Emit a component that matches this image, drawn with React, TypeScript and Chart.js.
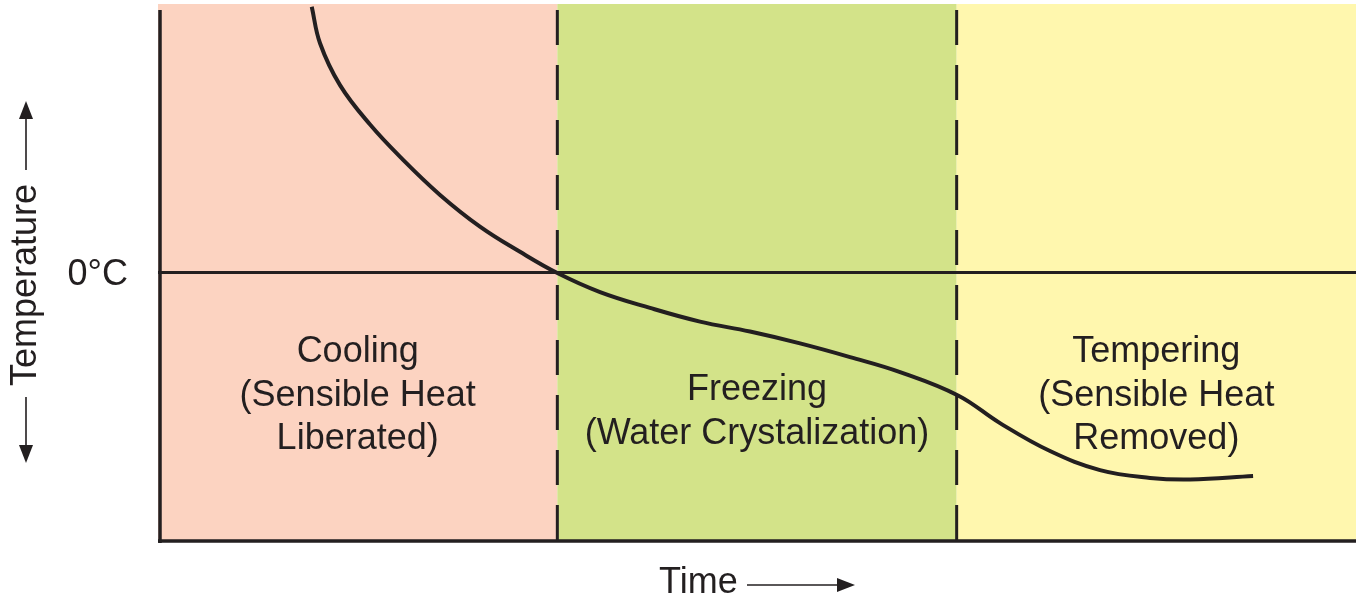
import React, { useEffect, useRef } from "react";
import { Chart, registerables } from "chart.js";

Chart.register(...registerables);

// ---- data ----
const curveTime = [
  1.54, 1.623, 1.823, 2.124, 2.441, 2.825, 3.225, 3.626, 4.0,
  4.428, 4.928, 5.429, 5.93, 6.431, 6.932, 7.433, 8.014, 8.434, 8.935, 9.436, 9.937, 10.338, 10.969,
];
const curveTemp = [
  9.9, 8.54, 6.98, 5.51, 4.25, 2.89, 1.71, 0.77, -0.02,
  -0.73, -1.32, -1.83, -2.2, -2.64, -3.15, -3.71, -4.58, -5.61, -6.65, -7.36, -7.65, -7.71, -7.58,
];

const regionStart = [0, 4, 8];
const regionEnd = [4, 8, 12];
const regionLabels = [
  ["Cooling", "(Sensible Heat", "Liberated)"],
  ["Freezing", "(Water Crystalization)"],
  ["Tempering", "(Sensible Heat", "Removed)"],
];
const boundaries = [4, 8];
const zeroLabel = "0°C";
const xTitle = "Time";
const yTitle = "Temperature";
const timeMin = 0;
const timeMax = 12;
const tempMin = -10;
const tempMax = 10;
const dashTop = 9.78;

// ---- styles ----
const regionColors = ["#FCD3C1", "#D3E389", "#FFF7AE"];
const INK = "#231F20";
const FONT = '36px "Liberation Sans", Arial, Helvetica, sans-serif';

export default function App() {
  const ref = useRef<HTMLCanvasElement | null>(null);

  useEffect(() => {
    document.body.style.margin = "0";
    const canvas = ref.current!;
    const decor = {
      id: "decor",
      beforeDatasetsDraw(chart: any) {
        const { ctx, chartArea, scales } = chart;
        const xs = scales.x;
        ctx.save();
        regionStart.forEach((s, i) => {
          const x0 = xs.getPixelForValue(s);
          const x1 = xs.getPixelForValue(regionEnd[i]);
          ctx.fillStyle = regionColors[i];
          ctx.fillRect(x0, chartArea.top, x1 - x0, chartArea.bottom - chartArea.top);
        });
        ctx.restore();
      },
      afterDatasetsDraw(chart: any) {
        const { ctx, chartArea, scales } = chart;
        const xs = scales.x;
        const ys = scales.y;
        ctx.save();
        // axes frame
        ctx.strokeStyle = INK;
        ctx.lineWidth = 3.5;
        ctx.beginPath();
        ctx.moveTo(chartArea.left + 2, chartArea.top + 6);
        ctx.lineTo(chartArea.left + 2, chartArea.bottom + 2);
        ctx.moveTo(chartArea.left, chartArea.bottom);
        ctx.lineTo(chartArea.right, chartArea.bottom);
        ctx.stroke();

        // region labels
        ctx.fillStyle = INK;
        ctx.font = FONT;
        ctx.textAlign = "center";
        ctx.textBaseline = "alphabetic";
        regionLabels.forEach((lines, i) => {
          const cx = (xs.getPixelForValue(regionStart[i]) + xs.getPixelForValue(regionEnd[i])) / 2;
          const firstBase = lines.length === 3 ? chartArea.top + 358 : chartArea.top + 396;
          lines.forEach((t, j) => {
            ctx.fillText(t, cx, firstBase + j * 43.5);
          });
        });

        // 0°C label
        ctx.textAlign = "right";
        ctx.fillText(zeroLabel, 128, ys.getPixelForValue(0) + 12.5);

        // x title + arrow
        ctx.textAlign = "left";
        ctx.fillText(xTitle, 659, 593);
        ctx.lineWidth = 1.6;
        ctx.beginPath();
        ctx.moveTo(747, 585);
        ctx.lineTo(840, 585);
        ctx.stroke();
        ctx.beginPath();
        ctx.moveTo(855, 585);
        ctx.lineTo(837, 578);
        ctx.lineTo(837, 592);
        ctx.closePath();
        ctx.fill();

        // y title + arrows
        ctx.save();
        ctx.translate(36, 285);
        ctx.rotate(-Math.PI / 2);
        ctx.textAlign = "center";
        ctx.fillText(yTitle, 0, 0);
        ctx.restore();
        ctx.beginPath();
        ctx.moveTo(26, 170);
        ctx.lineTo(26, 117);
        ctx.moveTo(26, 397);
        ctx.lineTo(26, 447);
        ctx.stroke();
        ctx.beginPath();
        ctx.moveTo(26, 101);
        ctx.lineTo(19, 119);
        ctx.lineTo(33, 119);
        ctx.closePath();
        ctx.fill();
        ctx.beginPath();
        ctx.moveTo(26, 463);
        ctx.lineTo(19, 445);
        ctx.lineTo(33, 445);
        ctx.closePath();
        ctx.fill();
        ctx.restore();
      },
    };

    const datasets: any[] = [
      {
        data: [
          { x: timeMin, y: 0 },
          { x: timeMax, y: 0 },
        ],
        borderColor: INK,
        borderWidth: 3.2,
        pointRadius: 0,
        order: 3,
      },
      ...boundaries.map((b) => ({
        data: [
          { x: b, y: dashTop },
          { x: b, y: tempMin },
        ],
        borderColor: INK,
        borderWidth: 3,
        borderDash: [35, 20],
        pointRadius: 0,
        order: 2,
      })),
      {
        data: curveTime.map((t, i) => ({ x: t, y: curveTemp[i] })),
        borderColor: INK,
        borderWidth: 4,
        pointRadius: 0,
        tension: 0.4,
        order: 1,
      },
    ];

    const chart = new Chart(canvas, {
      type: "line",
      data: { datasets },
      options: {
        animation: false,
        responsive: false,
        maintainAspectRatio: false,
        layout: { padding: { left: 158, top: 4, right: 0, bottom: 62 } },
        plugins: { legend: { display: false }, tooltip: { enabled: false } },
        scales: {
          x: { type: "linear", min: timeMin, max: timeMax, display: false },
          y: { type: "linear", min: tempMin, max: tempMax, display: false },
        },
        elements: { line: { borderCapStyle: "butt", borderJoinStyle: "round" } },
      },
      plugins: [decor],
    } as any);
    return () => chart.destroy();
  }, []);

  return (
    <div style={{ position: "absolute", left: 0, top: 0, width: 1356, height: 603, background: "#fff" }}>
      <canvas ref={ref} width={1356} height={603} style={{ width: 1356, height: 603, display: "block" }} />
    </div>
  );
}
